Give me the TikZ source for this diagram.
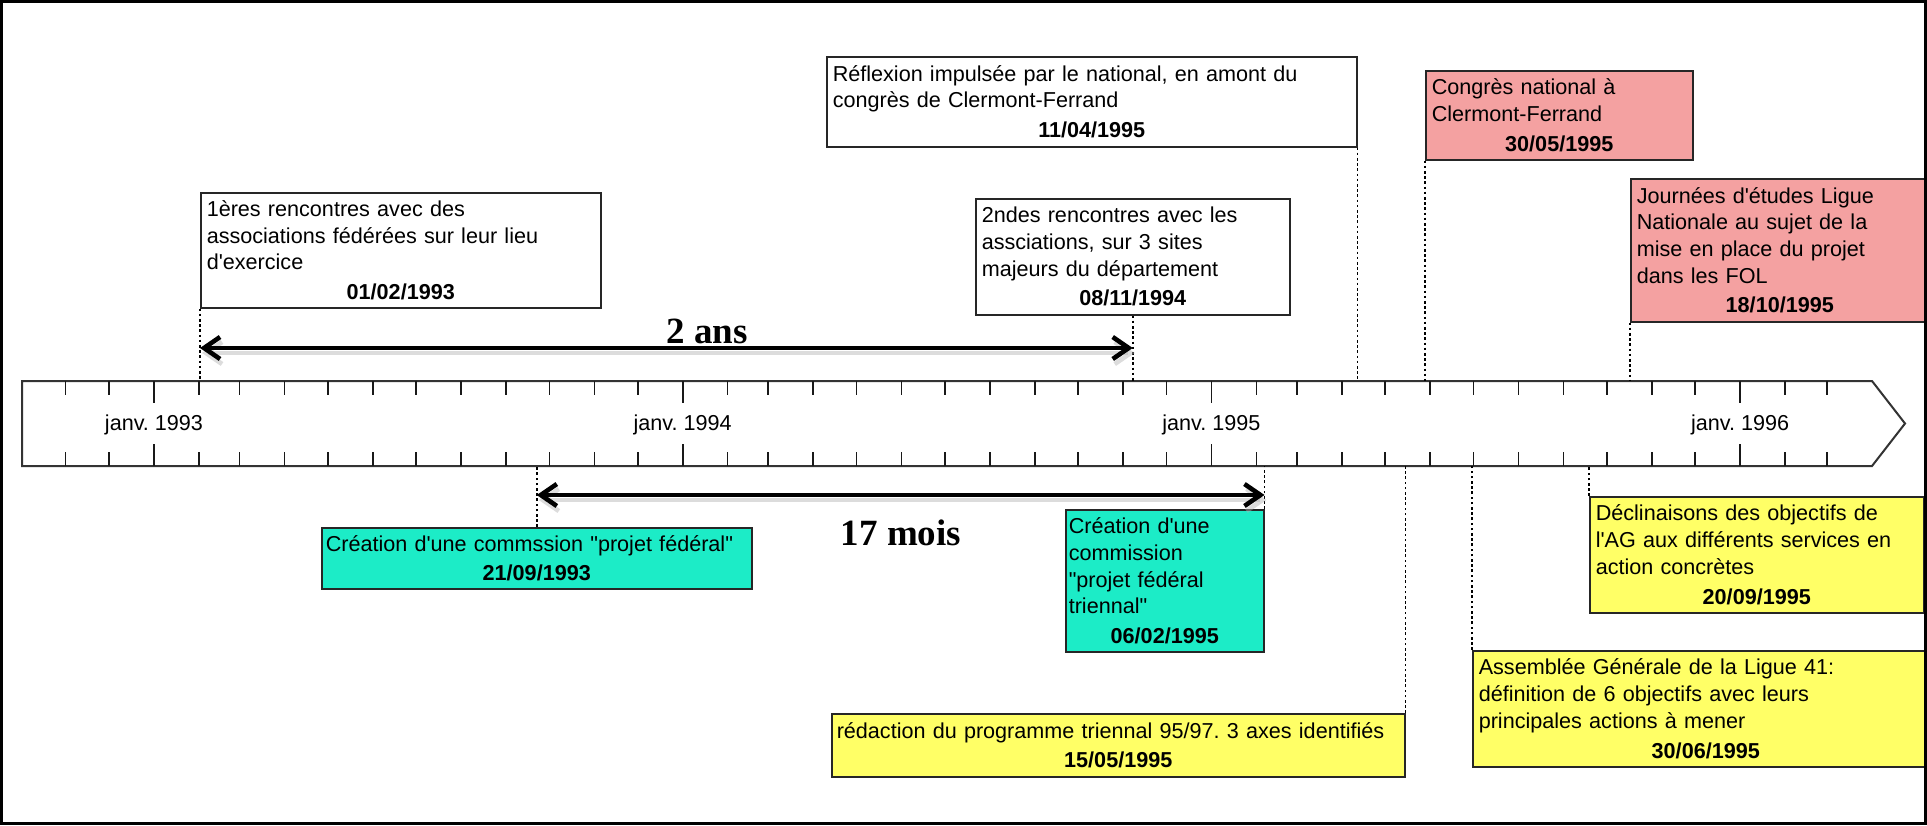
\documentclass[tikz,border=0pt]{standalone}
\usepackage{fontspec}
\setmainfont{Liberation Sans}
\newfontfamily\tnr{Liberation Serif}
\usetikzlibrary{arrows.meta}
\definecolor{evpink}{RGB}{244,161,161}
\definecolor{evteal}{RGB}{28,236,199}
\definecolor{evyellow}{RGB}{255,255,102}
\newcommand\ap{\textquotesingle}
\newcommand\qq{\textquotedbl}
\newcommand\dt[1]{\\[1.5bp]\makebox[\hsize][c]{\textbf{#1}}}
\frenchspacing
\begin{document}
\begin{tikzpicture}[x=0.5bp,y=-0.5bp,
  evt/.style={draw=black!85, line width=0.75bp, anchor=north west, inner xsep=3bp, inner ysep=0pt,
    align=left, font=\fontsize{10.8bp}{13.35bp}\selectfont},
  conn/.style={line width=0.8bp, dash pattern=on 1.3bp off 1.3bp},
  span/.style={line width=2.3bp, {Straight Barb[length=8bp,width=11bp]}-{Straight Barb[length=8bp,width=11bp]}},
  spanshadow/.style={span, draw=black!30, opacity=0.45, transform canvas={xshift=1bp,yshift=-2.5bp}},
  tick/.style={line width=0.8bp, draw=black!90},
  lbl/.style={font=\fontsize{10.8bp}{13bp}\selectfont, anchor=base, inner sep=0pt},
  big/.style={font=\tnr\bfseries\fontsize{18.5bp}{20bp}\selectfont, anchor=base, inner sep=0pt}]
\useasboundingbox (0,0) rectangle (1927,825);

% timeline bar
\draw[line width=1bp, draw=black!80, fill=white] (22,381) -- (1872,381) -- (1905,423.5) -- (1872,466) -- (22,466) -- cycle;
\foreach \d in {-61,-31,31,59,90,120,151,181,212,243,273,304,334,396,424,455,485,516,546,577,608,638,669,699,761,789,820,850,881,911,942,973,1003,1034,1064,1126,1155}{
  \pgfmathsetmacro\xx{154+1.4485*\d}
  \draw[tick] (\xx,381) -- ++(0,14);
  \draw[tick] (\xx,466) -- ++(0,-14);
}
\foreach \d in {0,365,730,1095}{
  \pgfmathsetmacro\xx{154+1.4485*\d}
  \draw[tick] (\xx,381) -- ++(0,22);
  \draw[tick] (\xx,466) -- ++(0,-22);
}
\node[lbl] (j93) at (154,430) {janv. 1993};
\node[lbl] (j94) at (682.7,430) {janv. 1994};
\node[lbl] (j95) at (1211.4,430) {janv. 1995};
\node[lbl] (j96) at (1740.1,430) {janv. 1996};

\coordinate (barT) at (0,381);
\coordinate (barB) at (0,466);
\coordinate (y1) at (0,348);
\coordinate (y2) at (0,495);

% events above
\node[evt, fill=white, text width=194bp, minimum width=200bp, minimum height=57.5bp] (b1) at (200,192)
  {1ères rencontres avec des\\associations fédérées sur leur lieu\\d\ap exercice\dt{01/02/1993}};
\node[evt, fill=white, text width=151bp, minimum width=157bp, minimum height=58bp] (b2) at (975,198)
  {2ndes rencontres avec les\\assciations, sur 3 sites\\majeurs du département\dt{08/11/1994}};
\node[evt, fill=white, text width=259bp, minimum width=265bp, minimum height=45bp] (b3) at (826,56)
  {Réflexion impulsée par le national, en amont du\\congrès de Clermont-Ferrand\dt{11/04/1995}};
\node[evt, fill=evpink, text width=127.5bp, minimum width=133.5bp, minimum height=44.5bp] (b4) at (1425,70)
  {Congrès national à\\Clermont-Ferrand\dt{30/05/1995}};
\node[evt, fill=evpink, text width=143bp, minimum width=149bp, minimum height=71.5bp] (b5) at (1630,178)
  {Journées d\ap études Ligue\\Nationale au sujet de la\\mise en place du projet\\dans les FOL\dt{18/10/1995}};

% events below
\node[evt, fill=evteal, inner xsep=2bp, text width=211bp, minimum width=215bp, minimum height=30.5bp] (b6) at (321,527)
  {Création d\ap une commssion \qq projet fédéral\qq\dt{21/09/1993}};
\node[evt, fill=evteal, inner xsep=1.5bp, text width=96bp, minimum width=99bp, minimum height=71bp] (b7) at (1065,509)
  {Création d\ap une\\commission\\\qq projet fédéral\\triennal\qq\dt{06/02/1995}};
\node[evt, fill=evyellow, inner xsep=2.5bp, text width=281.5bp, minimum width=286.5bp, minimum height=31.5bp] (b8) at (831,713)
  {rédaction du programme triennal 95/97. 3 axes identifiés\dt{15/05/1995}};
\node[evt, fill=evyellow, text width=227bp, minimum width=233bp, minimum height=58bp] (b9) at (1472,650)
  {Assemblée Générale de la Ligue 41:\\définition de 6 objectifs avec leurs\\principales actions à mener\dt{30/06/1995}};
\node[evt, fill=evyellow, text width=161bp, minimum width=167bp, minimum height=58bp] (b10) at (1589,496)
  {Déclinaisons des objectifs de\\l\ap AG aux différents services en\\action concrètes\dt{20/09/1995}};

% dotted connectors
\draw[conn] (b1.south west) -- (b1.south west |- barT);
\draw[conn] (b2.south) -- (b2.south |- barT);
\draw[conn] (b3.south east) -- (b3.south east |- barT);
\draw[conn] (b4.south west) -- (b4.south west |- barT);
\draw[conn] (b5.south west) -- (b5.south west |- barT);
\draw[conn] (b6.north) -- (b6.north |- barB);
\draw[conn] (b7.north east) -- (b7.north east |- barB);
\draw[conn] (b8.north east) -- (b8.north east |- barB);
\draw[conn] (b9.north west) -- (b9.north west |- barB);
\draw[conn] (b10.north west) -- (b10.north west |- barB);

% span arrows
\draw[spanshadow] (b1.south west |- y1) -- (b2.south |- y1);
\draw[span] (b1.south west |- y1) -- (b2.south |- y1);
\draw[spanshadow] (b6.north |- y2) -- (b7.north east |- y2);
\draw[span] (b6.north |- y2) -- (b7.north east |- y2);
\node[big] (l1) at (707,343) {2 ans};
\node[big] (l2) at (901,545) {17 mois};

% frame
\draw[line width=1.5bp] (1.5,1.5) rectangle (1925.5,823.5);
\end{tikzpicture}
\end{document}
